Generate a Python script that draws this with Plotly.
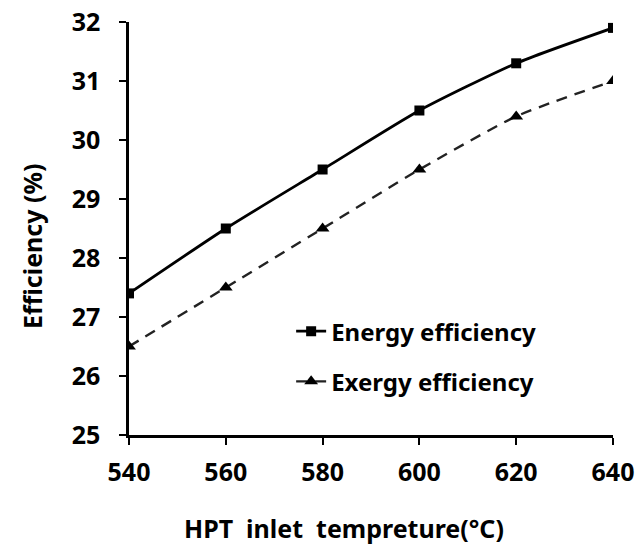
import plotly.graph_objects as go

temps = [540, 560, 580, 600, 620, 640]
energy_eff = [27.4, 28.5, 29.5, 30.5, 31.3, 31.9]
exergy_eff = [26.5, 27.5, 28.5, 29.5, 30.4, 31.0]

FONT = "'Noto Sans', 'Open Sans', sans-serif"
BF = dict(family=FONT, size=25, color="black", weight="bold")

fig = go.Figure()
fig.add_trace(go.Scatter(
    x=temps, y=energy_eff, name="Energy efficiency", mode="lines+markers",
    line=dict(color="black", width=2.8, shape="spline", smoothing=0.6),
    marker=dict(symbol="square", size=10, color="black"),
    legendgroup="a"))
fig.add_trace(go.Scatter(
    x=temps, y=exergy_eff, name="Exergy efficiency", mode="lines+markers",
    line=dict(color="#222", width=2.4, dash="11px,8px", shape="spline", smoothing=0.6),
    marker=dict(symbol="triangle-up", size=12, color="black"),
    legendgroup="b"))

fig.update_layout(
    width=639, height=547,
    margin=dict(l=129, r=26, t=22, b=112),
    paper_bgcolor="white", plot_bgcolor="white",
    font=BF,
    showlegend=True,
    legend=dict(x=0.335, y=0.305, xanchor="left", yanchor="top",
                bgcolor="rgba(0,0,0,0)", font=dict(BF, size=24),
                tracegroupgap=16, traceorder="grouped"),
    xaxis=dict(range=[540, 640], tickvals=temps, ticks="outside", ticklen=7,
               tickwidth=1.5, tickcolor="black", showline=True, linecolor="black",
               linewidth=2.5, showgrid=False, zeroline=False, automargin=False,
               tickfont=BF, ticklabelstandoff=6),
    yaxis=dict(range=[25, 32], dtick=1, ticks="outside", ticklen=7,
               tickwidth=1.5, tickcolor="black", showline=True, linecolor="black",
               linewidth=2.5, showgrid=False, zeroline=False, automargin=False,
               tickfont=BF, ticklabelstandoff=14),
    annotations=[
        dict(text="HPT  inlet  tempreture(°C)", xref="paper", yref="paper",
             x=(344 - 129) / 484, y=(435 - 528) / 413, xanchor="center", yanchor="middle",
             showarrow=False, font=BF),
        dict(text="Efficiency (%)", xref="paper", yref="paper", textangle=-90,
             x=(32 - 129) / 484, y=(435 - 246) / 413, xanchor="center", yanchor="middle",
             showarrow=False, font=BF),
    ],
)

fig.write_html("out.html")
